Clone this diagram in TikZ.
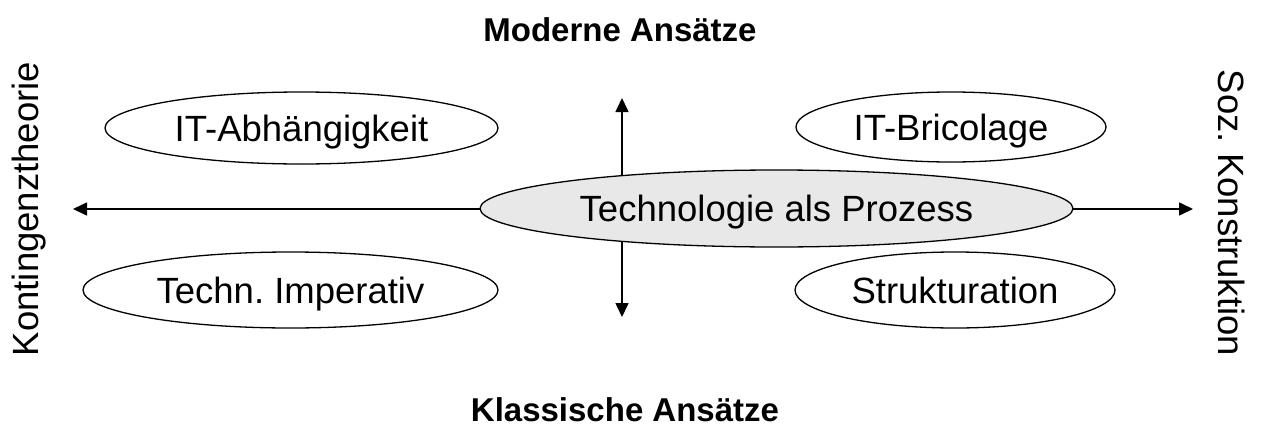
\documentclass[tikz,border=0pt]{standalone}
\usepackage{fontspec}
\setmainfont{Liberation Sans}
\usetikzlibrary{shapes.geometric,arrows.meta}
\frenchspacing
\begin{document}
\begin{tikzpicture}[x=1pt,y=-1pt,
  oval/.style={ellipse,draw=black,line width=1.3pt,inner sep=0pt,text height=26.3pt,text depth=0pt,font=\fontsize{36.5}{40}\selectfont},
  axis/.style={line width=1.6pt,{Triangle[length=14pt,width=13pt]}-{Triangle[length=14pt,width=13pt]}},
  title/.style={font=\fontsize{33}{36}\selectfont\bfseries,anchor=base,inner sep=0pt},
  side/.style={font=\fontsize{36.5}{40}\selectfont\frenchspacing,anchor=base,inner sep=0pt}]
\useasboundingbox (0,0) rectangle (1262,426);
\coordinate (hl) at (73,209);
\coordinate (hr) at (1193,209);
\coordinate (vt) at (622,98);
\coordinate (vb) at (622,317);
\draw[axis] (hl) -- (hr);
\draw[axis] (vt) -- (vb);
\node[oval,fill={rgb,255:red,232;green,232;blue,232},minimum width=593pt,minimum height=77pt] (proc) at (776.5,208.5) {Technologie als Prozess};
\node[oval,fill=white,minimum width=393pt,minimum height=72pt] (abh) at (301.5,128) {IT-Abhängigkeit};
\node[oval,fill=white,minimum width=310pt,minimum height=70pt] (bri) at (951,127) {IT-Bricolage};
\node[oval,fill=white,minimum width=415pt,minimum height=76pt] (imp) at (290.5,290) {Techn. Imperativ};
\node[oval,fill=white,minimum width=320pt,minimum height=76pt] (str) at (955,290) {Strukturation};
\node[title] (mod) at (620,41) {Moderne Ansätze};
\node[title] (kla) at (625,421) {Klassische Ansätze};
\node[side,rotate=90] (kon) at (38,209) {Kontingenztheorie};
\node[side,rotate=-90] (soz) at (1218,213) {Soz. Konstruktion};
\end{tikzpicture}
\end{document}
